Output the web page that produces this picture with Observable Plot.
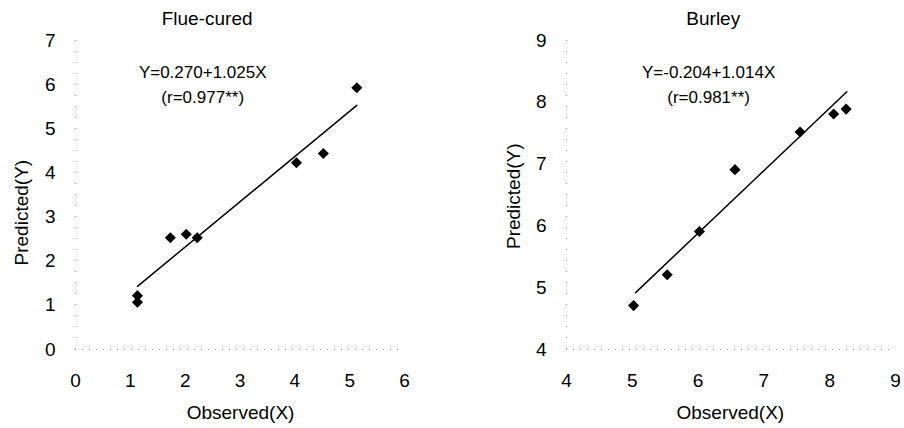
<!DOCTYPE html>
<html><head><meta charset="utf-8">
<script src="https://cdn.jsdelivr.net/npm/d3@7"></script>
<script src="https://cdn.jsdelivr.net/npm/@observablehq/plot@0.6"></script>
<style>
body{margin:0;background:#fff;}
#wrap{position:relative;width:904px;height:428px;overflow:hidden;}
#wrap > svg{position:absolute;top:0;}
</style></head><body><div id="wrap"></div>
<script>
// Flue-cured panel
const flueTitle = "Flue-cured";
const flueEquation = "Y=0.270+1.025X";
const flueCorr = "(r=0.977**)";
const flueObserved = [1.13, 1.13, 1.73, 2.02, 2.22, 4.03, 4.52, 5.13];
const fluePredicted = [1.22, 1.07, 2.53, 2.61, 2.53, 4.23, 4.44, 5.93];
const flueFitX = [1.13, 5.13];
const flueFitY = [1.43, 5.53];
const flueXTicks = [0, 1, 2, 3, 4, 5, 6];
const flueYTicks = [0, 1, 2, 3, 4, 5, 6, 7];

// Burley panel
const burleyTitle = "Burley";
const burleyEquation = "Y=-0.204+1.014X";
const burleyCorr = "(r=0.981**)";
const burleyObserved = [5.02, 5.53, 6.02, 6.56, 7.55, 8.06, 8.25];
const burleyPredicted = [4.71, 5.21, 5.91, 6.91, 7.52, 7.81, 7.89];
const burleyFitX = [5.05, 8.26];
const burleyFitY = [4.92, 8.17];
const burleyXTicks = [4, 5, 6, 7, 8, 9];
const burleyYTicks = [4, 5, 6, 7, 8, 9];

const xLabel = "Observed(X)";
const yLabel = "Predicted(Y)";

function panel(o) {
  const pts = o.xs.map((x, i) => ({x, y: o.ys[i]}));
  const fit = o.fx.map((x, i) => ({x, y: o.fy[i]}));
  const xd = [o.xt[0], o.xt[o.xt.length - 1]];
  const yd = [o.yt[0], o.yt[o.yt.length - 1]];
  return Plot.plot({
    width: 452, height: 428,
    marginLeft: o.ml, marginRight: o.mr, marginTop: 40, marginBottom: 79,
    style: {fontFamily: "'Liberation Sans', Arial, sans-serif", fontSize: "19px", color: "#000", background: "#fff", overflow: "visible"},
    x: {domain: xd},
    y: {domain: yd},
    marks: [
      Plot.ruleY([yd[0]], {stroke: "#999", strokeDasharray: "1 6"}),
      Plot.ruleX([xd[0]], {stroke: "#999", strokeDasharray: "1 10"}),
      Plot.axisX({ticks: o.xt, tickFormat: "d", tickSize: 0, tickPadding: 24, label: null, fontSize: 19}),
      Plot.axisY({ticks: o.yt, tickFormat: "d", tickSize: 0, tickPadding: 20, label: null, fontSize: 19}),
      Plot.line(fit, {x: "x", y: "y", stroke: "#000", strokeWidth: 1.5}),
      Plot.dot(pts, {x: "x", y: "y", symbol: "diamond2", r: 5, fill: "#000", stroke: "none"}),
      Plot.text([o.title], {x: o.tx, y: o.ty, text: d => d, fontSize: 19}),
      Plot.text([o.eq], {x: o.ex, y: o.ey1, text: d => d, fontSize: 17}),
      Plot.text([o.corr], {x: o.ex, y: o.ey2, text: d => d, fontSize: 17}),
      Plot.text([xLabel], {x: o.lx, y: o.ly, text: d => d, fontSize: 19}),
      Plot.text([yLabel], {x: o.yx, y: o.yy, text: d => d, fontSize: 19, rotate: -90})
    ]
  });
}

const left = panel({
  xs: flueObserved, ys: fluePredicted, fx: flueFitX, fy: flueFitY,
  xt: flueXTicks, yt: flueYTicks, ml: 75, mr: 48,
  title: flueTitle, tx: 2.4, ty: 7.5,
  eq: flueEquation, corr: flueCorr, ex: 2.32, ey1: 6.275, ey2: 5.71,
  lx: 3.01, ly: -1.43, yx: -0.97, yy: 3.1
});
const right = panel({
  xs: burleyObserved, ys: burleyPredicted, fx: burleyFitX, fy: burleyFitY,
  xt: burleyXTicks, yt: burleyYTicks, ml: 114, mr: 9,
  title: burleyTitle, tx: 6.23, ty: 9.356,
  eq: burleyEquation, corr: burleyCorr, ex: 6.16, ey1: 8.48, ey2: 8.08,
  lx: 6.49, ly: 2.98, yx: 3.195, yy: 6.48
});
left.style.left = "0px";
right.style.left = "452px";
document.getElementById("wrap").append(left, right);
</script>
</body></html>
